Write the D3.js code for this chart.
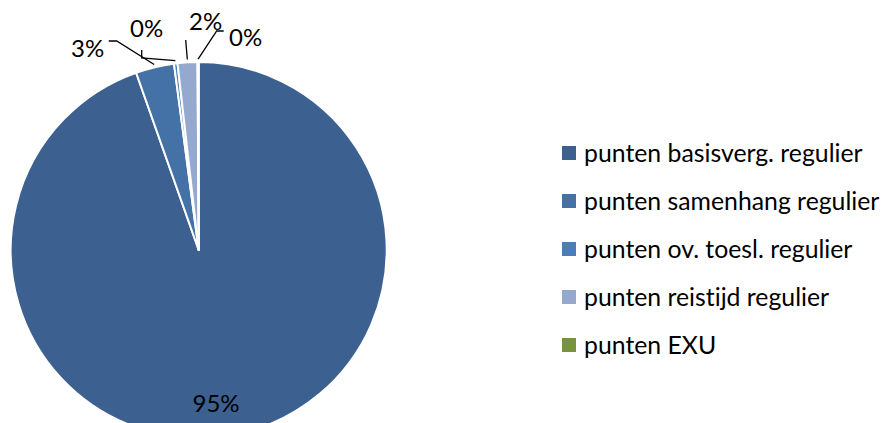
<!DOCTYPE html>
<html>
<head>
<meta charset="utf-8">
<script src="https://cdn.jsdelivr.net/npm/d3@7"></script>
<style>
  html, body { margin: 0; padding: 0; background: #fff; }
  svg { display: block; }
  text { font-family: Lato, "Open Sans", sans-serif; fill: #000; font-variant-ligatures: none; }
</style>
</head>
<body>
<div id="chart"></div>
<script>
const categories = [
  'punten basisverg. regulier',
  'punten samenhang regulier',
  'punten ov. toesl. regulier',
  'punten reistijd regulier',
  'punten EXU'
];
const values = [94.6, 3.3, 0.3, 1.7, 0.1];
const colors = ['#3c608f', '#4472a6', '#4a7ebb', '#95a9cf', '#77933c'];

// where the outside labels sit, relative to the pie centre (Excel "best fit")
const labelPlacement = [
  null,
  {text: [-111, -193], path: [[-82, -209], [-90, -209]]},
  {text: [-52, -213], path: [[-57, -192], [-57, -200]]},
  {text: [7, -220], path: [[-13, -210]]},
  {text: [47, -204], path: [[18, -219], [25, -219]]}
];

const width = 887, height = 423;
const cx = 198.7, cy = 250, radius = 188;

const svg = d3.select('#chart').append('svg')
  .attr('width', width)
  .attr('height', height);

const pie = d3.pie().sort(null).value(function(d) { return d; });
const arcs = pie(values);

const arc = d3.arc().innerRadius(0).outerRadius(radius);

const g = svg.append('g')
  .attr('transform', 'translate(' + cx + ',' + cy + ')');

g.selectAll('path.slice')
  .data(arcs)
  .enter()
  .append('path')
  .attr('class', 'slice')
  .attr('d', arc)
  .attr('fill', function(d, i) { return colors[i]; })
  .attr('stroke', '#fff')
  .attr('stroke-width', 2)
  .attr('stroke-linejoin', 'round');

const total = d3.sum(values);
const fmt = function(v) { return Math.round(v / total * 100) + '%'; };

// big slice: label inside
const inner = d3.arc().innerRadius(radius * 0.83).outerRadius(radius * 0.83);
const c0 = inner.centroid(arcs[0]);
g.append('text')
  .attr('x', c0[0] - 9)
  .attr('y', c0[1] + 8)
  .attr('text-anchor', 'middle')
  .attr('font-size', 24)
  .text(fmt(values[0]));

// small slices: labels outside with leader lines
const rim = d3.arc().innerRadius(radius * 1.015).outerRadius(radius * 1.015);
const line = d3.line();
arcs.forEach(function(a, i) {
  const p = labelPlacement[i];
  if (!p) return;
  const start = rim.centroid(a);
  g.append('path')
    .attr('d', line([start].concat(p.path)))
    .attr('fill', 'none')
    .attr('stroke', '#000')
    .attr('stroke-width', 1.3);
  g.append('text')
    .attr('x', p.text[0])
    .attr('y', p.text[1])
    .attr('text-anchor', 'middle')
    .attr('font-size', 24)
    .text(fmt(values[i]));
});

// legend
const legendY = d3.scalePoint()
  .domain(categories)
  .range([153, 345]);

const legend = svg.append('g')
  .selectAll('g')
  .data(categories)
  .enter()
  .append('g')
  .attr('transform', function(d) { return 'translate(562,' + legendY(d) + ')'; });

legend.append('rect')
  .attr('x', 0)
  .attr('y', -7)
  .attr('width', 14)
  .attr('height', 14)
  .attr('fill', function(d, i) { return colors[i]; });

legend.append('text')
  .attr('x', 22)
  .attr('y', 9)
  .attr('font-size', 24.8)
  .text(function(d) { return d; });
</script>
</body>
</html>
